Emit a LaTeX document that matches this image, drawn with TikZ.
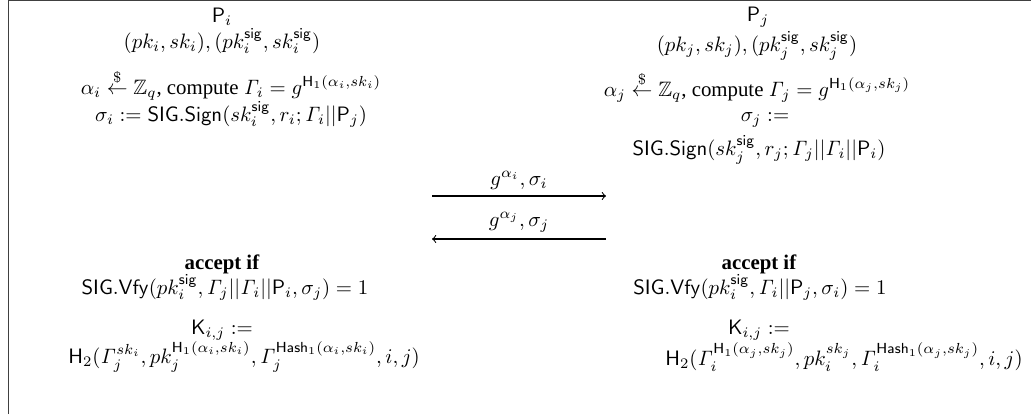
\documentclass[tikz,border=0pt]{standalone}
\usepackage{amsmath,amssymb}
\usepackage[no-math]{fontspec}
\setmainfont{Liberation Serif}
\newcommand{\sgn}{\mathsf{sig}}
\newcommand{\Gm}{\mathit{\Gamma}}
\newcommand{\rnd}{\stackrel{\$}{\leftarrow}}
\tikzset{
  txt/.style={inner sep=0pt, anchor=center},
  frame/.style={draw=black!75, line width=0.9pt},
  msg/.style={->, line width=0.5pt}
}
\begin{document}
\begin{tikzpicture}[x=0.48pt, y=-0.48pt]
\useasboundingbox (0,0) rectangle (1031,414);
\draw[frame] (8.5,414) -- (8.5,0.5) -- (1031,0.5);
% left party
\node[txt] (pi) at (222,17) {$\mathsf{P}_i$};
\node[txt] (ki) at (222,41) {$(pk_i,sk_i),(pk_i^{\sgn},sk_i^{\sgn})$};
\node[txt] (ai) at (231,85) {$\alpha_i \rnd \mathbb{Z}_q$, compute $\Gm_i = g^{\mathsf{H}_1(\alpha_i,sk_i)}$};
\node[txt] (si) at (231,114) {$\sigma_i := \mathsf{SIG.Sign}(sk_i^{\sgn},r_i;\Gm_i||\mathsf{P}_j)$};
% right party
\node[txt] (pj) at (758,17) {$\mathsf{P}_j$};
\node[txt] (kj) at (757,46) {$(pk_j,sk_j),(pk_j^{\sgn},sk_j^{\sgn})$};
\node[txt] (aj) at (757,87) {$\alpha_j \rnd \mathbb{Z}_q$, compute $\Gm_j = g^{\mathsf{H}_1(\alpha_j,sk_j)}$};
\node[txt] (sj) at (765,120) {$\sigma_j :=$};
\node[txt] (sj2) at (759,150) {$\mathsf{SIG.Sign}(sk_j^{\sgn},r_j;\Gm_j||\Gm_i||\mathsf{P}_i)$};
% messages
\coordinate (m1s) at (432,196);
\coordinate (m1e) at (606,196);
\coordinate (m2s) at (606,239);
\coordinate (m2e) at (432,239);
\draw[msg] (m1s) -- node[txt, above=3pt, anchor=south] (l1) {$g^{\alpha_i},\sigma_i$} (m1e);
\draw[msg] (m2s) -- node[txt, above=3pt, anchor=south] (l2) {$g^{\alpha_j},\sigma_j$} (m2e);
% left checks
\node[txt] (acci) at (222,264) {\textbf{accept if}};
\node[txt] (vi) at (225,287) {$\mathsf{SIG.Vfy}(pk_i^{\sgn},\Gm_j||\Gm_i||\mathsf{P}_i,\sigma_j) = 1$};
\node[txt] (kki) at (222,330) {$\mathsf{K}_{i,j} :=$};
\node[txt] (hi) at (244,357) {$\mathsf{H}_2(\Gm_j^{sk_i},pk_j^{\mathsf{H}_1(\alpha_i,sk_i)},\Gm_j^{\mathsf{Hash}_1(\alpha_i,sk_i)},i,j)$};
% right checks
\node[txt] (accj) at (759,264) {\textbf{accept if}};
\node[txt] (vj) at (760,287) {$\mathsf{SIG.Vfy}(pk_i^{\sgn},\Gm_i||\mathsf{P}_j,\sigma_i) = 1$};
\node[txt] (kkj) at (759,330) {$\mathsf{K}_{i,j} :=$};
\node[txt] (hj) at (844,357) {$\mathsf{H}_2(\Gm_i^{\mathsf{H}_1(\alpha_j,sk_j)},pk_i^{sk_j},\Gm_i^{\mathsf{Hash}_1(\alpha_j,sk_j)},i,j)$};
\end{tikzpicture}
\end{document}
